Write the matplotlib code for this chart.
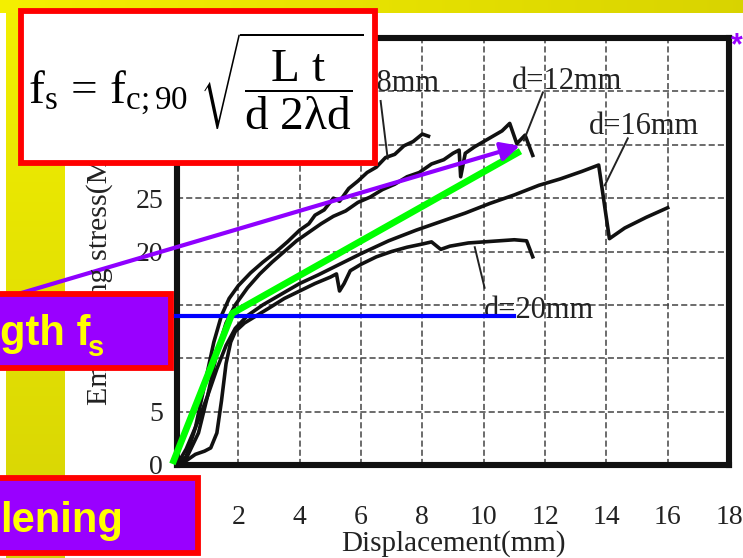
import numpy as np
import matplotlib.pyplot as plt
from matplotlib.patches import Rectangle

plt.rcParams['font.family'] = ['Liberation Serif', 'DejaVu Serif']
plt.rcParams['mathtext.fontset'] = 'custom'
plt.rcParams['mathtext.rm'] = 'Liberation Serif'
plt.rcParams['mathtext.it'] = 'Liberation Serif:italic'

# ── Data ──────────────────────────────────────────────────────────────────────
d8_x = [0, 0.3, 0.6, 0.9, 1.2, 1.45, 1.7, 2.0, 2.4, 2.8, 3.2, 3.6, 4.0, 4.3, 4.5, 4.8,
        5.1, 5.3, 5.6, 5.9, 6.2, 6.5, 6.8, 7.1, 7.4, 7.7, 8.0, 8.2]
d8_y = [0, 0.8, 3.5, 7.5, 11.5, 14.0, 15.6, 16.8, 18.0, 19.0, 19.9, 20.9, 22.0, 22.6, 23.4, 23.9,
        25.0, 24.7, 25.9, 26.6, 27.4, 27.9, 28.8, 29.1, 29.9, 30.3, 31.0, 30.8]

d12_x = [0, 0.3, 0.7, 1.0, 1.3, 1.6, 1.9, 2.3, 2.7, 3.1, 3.5, 3.9, 4.3, 4.7, 5.1, 5.5, 5.9, 6.3,
         6.7, 7.1, 7.5, 7.9, 8.3, 8.7, 9.0, 9.2, 9.25, 9.4, 9.7, 10.0, 10.3, 10.6, 10.85, 11.08,
         11.35, 11.6]
d12_y = [0, 0.6, 3.0, 6.5, 10.5, 13.3, 15.0, 16.6, 17.9, 19.0, 20.0, 21.0, 21.8, 22.6, 23.3, 23.8,
         24.6, 25.1, 25.8, 26.3, 27.0, 27.4, 28.2, 28.6, 29.2, 29.5, 27.0, 29.2, 29.8, 30.3, 30.8,
         31.3, 32.0, 30.1, 30.9, 29.0]

d16_x = [0, 0.3, 0.7, 1.0, 1.3, 1.6, 1.9, 2.3, 2.8, 3.4, 4.0, 4.6, 5.3, 6.0, 6.9, 7.8, 8.6, 9.4,
         10.2, 11.0, 11.8, 12.5, 13.2, 13.75, 14.1, 14.6, 15.3, 16.0]
d16_y = [0, 1.5, 4.2, 6.5, 9.0, 11.2, 12.8, 14.0, 15.0, 16.0, 17.0, 17.8, 18.8, 19.8, 21.0, 22.0,
         22.8, 23.6, 24.5, 25.3, 26.2, 26.8, 27.5, 28.1, 21.2, 22.2, 23.2, 24.1]

d20_x = [0, 0.3, 0.6, 0.9, 1.1, 1.3, 1.45, 1.6, 1.75, 1.9, 2.2, 2.6, 3.0, 3.5, 4.0, 4.5, 5.0, 5.2,
         5.3, 5.45, 5.65, 6.0, 6.5, 7.0, 7.5, 8.0, 8.3, 8.6, 8.9, 9.5, 10.0, 10.5, 11.0, 11.4, 11.6]
d20_y = [0, 0.4, 1.0, 1.3, 1.6, 3.0, 6.0, 9.5, 11.5, 12.5, 13.3, 14.0, 14.7, 15.6, 16.3, 17.0, 17.6,
         17.9, 16.3, 17.0, 18.2, 18.8, 19.5, 20.0, 20.4, 20.7, 20.9, 20.2, 20.5, 20.8, 20.9, 21.0,
         21.1, 21.0, 19.5]

curve_labels = ['d=8mm', 'd=12mm', 'd=16mm', 'd=20mm']
label_x = [8.56, 12.72, 15.22, 10.0]
label_y = [35.7, 35.9, 31.7, 14.5]
leader_x = [[6.64, 6.87], [11.93, 11.31], [14.70, 13.95], [9.71, 10.03]]
leader_y = [[34.1, 28.7], [34.9, 30.4], [30.6, 26.2], [20.4, 16.6]]

x_ticks = [0, 2, 4, 6, 8, 10, 12, 14, 16, 18]
y_ticks = [0, 5, 10, 15, 20, 25, 30, 35, 40]

# slide overlays (data coordinates)
green_x = [-0.15, 1.8, 11.2]
green_y = [0.1, 14.2, 29.4]
blue_x = [-0.1, 11.0]
blue_y = [14.0, 14.0]
arrow_start = (-5.09, 16.1)
arrow_end = (11.18, 29.9)

W, H = 743, 558
fig = plt.figure(figsize=(W / 100, H / 100), dpi=100)

# ── slide background: yellow strips ───────────────────────────────────────────
bg = np.ones((H, W, 3))
top = np.linspace(0, 1, W)[:, None]
bg[:13, :, :] = (np.array([0.96, 0.94, 0.0]) * (1 - top) + np.array([0.85, 0.83, 0.0]) * top)[None, :, :]
side = np.linspace(0, 1, H - 13)[:, None]
bg[13:, 6:65, :] = (np.array([0.95, 0.94, 0.0]) * (1 - side) + np.array([0.84, 0.83, 0.02]) * side)[:, None, :]
bax = fig.add_axes([0, 0, 1, 1], zorder=-5)
bax.imshow(bg, aspect='auto', interpolation='nearest')
bax.axis('off')

# ── the scanned chart ─────────────────────────────────────────────────────────
ax = fig.add_axes([177 / W, 1 - 465 / H, (729 - 177) / W, (465 - 38) / H])
ax.set_xlim(0, 18)
ax.set_ylim(0, 40)
ax.set_xticks(x_ticks)
ax.set_yticks(y_ticks)
ax.tick_params(length=0, labelsize=20, colors='#222222')
ax.tick_params(axis='x', pad=29)
ax.tick_params(axis='y', pad=10)
ax.grid(True, color='#444444', lw=1.1, ls=(0, (4, 2)))
for s in ax.spines.values():
    s.set_linewidth(4.4)
    s.set_color('#111111')
ax.set_xlabel('Displacement(mm)', fontsize=21, color='#222222', labelpad=0)

for xs, ys in [(d8_x, d8_y), (d12_x, d12_y), (d16_x, d16_y), (d20_x, d20_y)]:
    ax.plot(xs, ys, color='#111111', lw=2.6, solid_joinstyle='round')
for lab, lx, ly, lxs, lys in zip(curve_labels, label_x, label_y, leader_x, leader_y):
    ha = 'right' if lab == 'd=8mm' else ('left' if lab == 'd=20mm' else 'center')
    ax.text(lx, ly, lab, fontsize=22, ha=ha, va='center', color='#222222')
    ax.plot(lxs, lys, color='#222222', lw=1.4)

fig.text(100 / W, 1 - 405 / H, 'Embedding stress(MPa)', rotation=90, fontsize=21.5,
         ha='center', va='bottom', color='#222222')

# overlays drawn on the chart
ax.plot(blue_x, blue_y, color='#0000FF', lw=3, clip_on=False, zorder=5)
ax.plot(green_x, green_y, color='#00FF00', lw=4.8, clip_on=False, zorder=6,
        solid_capstyle='butt')
ax.annotate('', xy=arrow_end, xytext=arrow_start, annotation_clip=False, zorder=7,
            arrowprops=dict(arrowstyle='-|>', color='#8F00FF', lw=3, mutation_scale=28,
                            shrinkA=0, shrinkB=0))

# ── slide boxes ───────────────────────────────────────────────────────────────
def px_box(x0, y0, x1, y1, face):
    fig.patches.append(Rectangle((x0 / W, 1 - y1 / H), (x1 - x0) / W, (y1 - y0) / H,
                                 transform=fig.transFigure, facecolor=face,
                                 edgecolor='#FF0000', lw=4.2, zorder=10))

px_box(20.5, 11, 375.5, 163, 'white')
px_box(-5, 293.5, 170.5, 367.5, '#9900FF')
px_box(-5, 477.5, 197.5, 552.5, '#9900FF')

fig.text(196 / W, 1 - 81 / H,
         r'$\mathrm{f_s\,=\,f_{c;90}}\ \sqrt{\dfrac{\mathrm{L\ t}}{\mathrm{d\ 2λd}}}$',
         fontsize=34, ha='center', va='center', zorder=11)

fig.text(0, 1 - 345 / H, 'gth f', family='Liberation Sans', fontweight='bold',
         fontsize=30, color='#FFFF00', ha='left', va='baseline', zorder=11)
fig.text(88 / W, 1 - 356 / H, 's', family='Liberation Sans', fontweight='bold',
         fontsize=21, color='#FFFF00', ha='left', va='baseline', zorder=11)
fig.text(0, 1 - 532 / H, 'lening', family='Liberation Sans', fontweight='bold',
         fontsize=30, color='#FFFF00', ha='left', va='baseline', zorder=11)
fig.text(731 / W, 1 - 46 / H, '*', family='Liberation Sans', fontweight='bold',
         fontsize=22, color='#9900FF', ha='left', va='center', zorder=11)

fig.savefig('out.png', dpi=100)
